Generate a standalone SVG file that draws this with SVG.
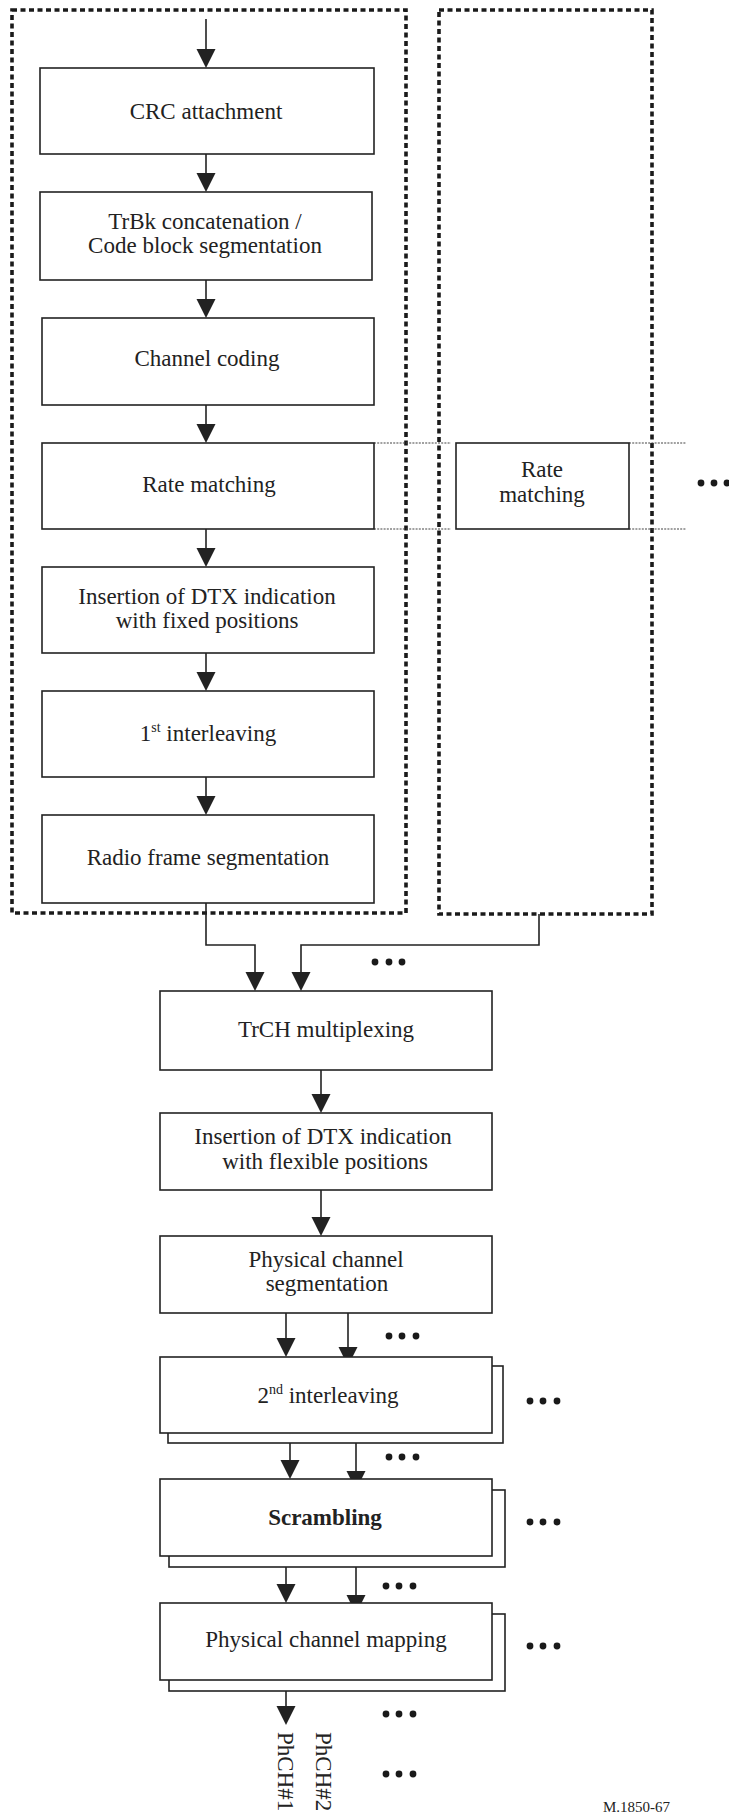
<svg xmlns="http://www.w3.org/2000/svg" width="729" height="1815" viewBox="0 0 729 1815">
<defs>
<style>
.box{fill:#fff;stroke:#222;stroke-width:1.6}
.t{font-family:"Liberation Serif","Times New Roman",serif;font-size:23px;fill:#222;text-anchor:middle}
.sup{font-size:14px}
.ln{fill:none;stroke:#222;stroke-width:1.6}
.grp{fill:none;stroke:#1a1a1a;stroke-width:3.6;stroke-dasharray:5 3.5}
.thin{fill:none;stroke:#444;stroke-width:1.2;stroke-dasharray:2 1.2}
.dot{fill:#1a1a1a}
</style>
</defs>
<rect width="729" height="1815" fill="#fff"/>

<g id="groups">
<rect class="grp" x="12" y="10" width="394" height="903"/>
<rect class="grp" x="439" y="10" width="213" height="904"/>
<path class="thin" d="M374,443 H451 M374,529 H451 M629,443 H686 M629,529 H686"/>
</g>

<g id="connectors">
<line class="ln" x1="206" y1="19" x2="206" y2="49"/><path d="M196.5,49 H215.5 L206,68 Z" fill="#222"/>
<line class="ln" x1="206" y1="154" x2="206" y2="173"/><path d="M196.5,173 H215.5 L206,192 Z" fill="#222"/>
<line class="ln" x1="206" y1="280" x2="206" y2="299"/><path d="M196.5,299 H215.5 L206,318 Z" fill="#222"/>
<line class="ln" x1="206" y1="405" x2="206" y2="424"/><path d="M196.5,424 H215.5 L206,443 Z" fill="#222"/>
<line class="ln" x1="206" y1="529" x2="206" y2="548"/><path d="M196.5,548 H215.5 L206,567 Z" fill="#222"/>
<line class="ln" x1="206" y1="653" x2="206" y2="672"/><path d="M196.5,672 H215.5 L206,691 Z" fill="#222"/>
<line class="ln" x1="206" y1="777" x2="206" y2="796"/><path d="M196.5,796 H215.5 L206,815 Z" fill="#222"/>
<path class="ln" d="M206,903 V945 H255 V972"/><path d="M245.5,972 H264.5 L255,991 Z" fill="#222"/>
<path class="ln" d="M539,914 V945 H301 V972"/><path d="M291.5,972 H310.5 L301,991 Z" fill="#222"/>
<line class="ln" x1="321" y1="1070" x2="321" y2="1094"/><path d="M311.5,1094 H330.5 L321,1113 Z" fill="#222"/>
<line class="ln" x1="321" y1="1190" x2="321" y2="1217"/><path d="M311.5,1217 H330.5 L321,1236 Z" fill="#222"/>
<line class="ln" x1="286" y1="1313" x2="286" y2="1338"/><path d="M276.5,1338 H295.5 L286,1357 Z" fill="#222"/>
<line class="ln" x1="348" y1="1313" x2="348" y2="1347"/><path d="M338.5,1347 H357.5 L348,1366 Z" fill="#222"/>
<line class="ln" x1="290" y1="1433" x2="290" y2="1460"/><path d="M280.5,1460 H299.5 L290,1479 Z" fill="#222"/>
<line class="ln" x1="356" y1="1443" x2="356" y2="1471"/><path d="M346.5,1471 H365.5 L356,1490 Z" fill="#222"/>
<line class="ln" x1="286" y1="1556" x2="286" y2="1584"/><path d="M276.5,1584 H295.5 L286,1603 Z" fill="#222"/>
<line class="ln" x1="356" y1="1567" x2="356" y2="1595"/><path d="M346.5,1595 H365.5 L356,1614 Z" fill="#222"/>
<line class="ln" x1="286" y1="1680" x2="286" y2="1706"/><path d="M276.5,1706 H295.5 L286,1725 Z" fill="#222"/>
</g>

<g id="crc"><rect class="box" x="40" y="68" width="334" height="86"/><text class="t" x="206" y="119">CRC attachment</text></g>
<g id="trbk"><rect class="box" x="40" y="192" width="332" height="88"/><text class="t" x="205" y="229">TrBk concatenation /</text><text class="t" x="205" y="253">Code block segmentation</text></g>
<g id="chcoding"><rect class="box" x="42" y="318" width="332" height="87"/><text class="t" x="207" y="366">Channel coding</text></g>
<g id="ratematch"><rect class="box" x="42" y="443" width="332" height="86"/><text class="t" x="209" y="492">Rate matching</text></g>
<g id="ratematch2"><rect class="box" x="456" y="443" width="173" height="86"/><text class="t" x="542" y="477">Rate</text><text class="t" x="542" y="502">matching</text></g>
<g id="dtxfixed"><rect class="box" x="42" y="567" width="332" height="86"/><text class="t" x="207" y="604">Insertion of DTX indication</text><text class="t" x="207" y="628">with fixed positions</text></g>
<g id="interleave1"><rect class="box" x="42" y="691" width="332" height="86"/><text class="t" x="208" y="741">1<tspan class="sup" dy="-9">st</tspan><tspan dy="9"> interleaving</tspan></text></g>
<g id="radioframe"><rect class="box" x="42" y="815" width="332" height="88"/><text class="t" x="208" y="865">Radio frame segmentation</text></g>

<g id="trchmux"><rect class="box" x="160" y="991" width="332" height="79"/><text class="t" x="326" y="1037">TrCH multiplexing</text></g>
<g id="dtxflex"><rect class="box" x="160" y="1113" width="332" height="77"/><text class="t" x="323" y="1144">Insertion of DTX indication</text><text class="t" x="325" y="1169">with flexible positions</text></g>
<g id="physeg"><rect class="box" x="160" y="1236" width="332" height="77"/><text class="t" x="326" y="1267">Physical channel</text><text class="t" x="327" y="1291">segmentation</text></g>
<g id="interleave2"><rect class="box" x="168" y="1366" width="335" height="77"/><rect class="box" x="160" y="1357" width="332" height="76"/><text class="t" x="328" y="1403">2<tspan class="sup" dy="-9">nd</tspan><tspan dy="9"> interleaving</tspan></text></g>
<g id="scrambling"><rect class="box" x="169" y="1490" width="336" height="77"/><rect class="box" x="160" y="1479" width="332" height="77"/><text class="t" x="325" y="1525" font-weight="bold">Scrambling</text></g>
<g id="phymap"><rect class="box" x="169" y="1614" width="336" height="77"/><rect class="box" x="160" y="1603" width="332" height="77"/><text class="t" x="326" y="1647">Physical channel mapping</text></g>

<g id="phch1"><text class="t" style="text-anchor:start" transform="translate(278,1732) rotate(90)">PhCH#1</text></g>
<g id="phch2"><text class="t" style="text-anchor:start" transform="translate(316,1732) rotate(90)">PhCH#2</text></g>

<g id="ellipses">
<circle class="dot" cx="701" cy="483" r="3.4"/><circle class="dot" cx="714" cy="483" r="3.4"/><circle class="dot" cx="727" cy="483" r="3.4"/>
<circle class="dot" cx="375" cy="962" r="3.4"/><circle class="dot" cx="389" cy="962" r="3.4"/><circle class="dot" cx="402" cy="962" r="3.4"/>
<circle class="dot" cx="389" cy="1336" r="3.4"/><circle class="dot" cx="402" cy="1336" r="3.4"/><circle class="dot" cx="416" cy="1336" r="3.4"/>
<circle class="dot" cx="530" cy="1401" r="3.4"/><circle class="dot" cx="543" cy="1401" r="3.4"/><circle class="dot" cx="557" cy="1401" r="3.4"/>
<circle class="dot" cx="389" cy="1457" r="3.4"/><circle class="dot" cx="402" cy="1457" r="3.4"/><circle class="dot" cx="416" cy="1457" r="3.4"/>
<circle class="dot" cx="530" cy="1522" r="3.4"/><circle class="dot" cx="543" cy="1522" r="3.4"/><circle class="dot" cx="557" cy="1522" r="3.4"/>
<circle class="dot" cx="386" cy="1586" r="3.4"/><circle class="dot" cx="399" cy="1586" r="3.4"/><circle class="dot" cx="413" cy="1586" r="3.4"/>
<circle class="dot" cx="530" cy="1646" r="3.4"/><circle class="dot" cx="543" cy="1646" r="3.4"/><circle class="dot" cx="557" cy="1646" r="3.4"/>
<circle class="dot" cx="386" cy="1714" r="3.4"/><circle class="dot" cx="399" cy="1714" r="3.4"/><circle class="dot" cx="413" cy="1714" r="3.4"/>
<circle class="dot" cx="386" cy="1774" r="3.4"/><circle class="dot" cx="399" cy="1774" r="3.4"/><circle class="dot" cx="413" cy="1774" r="3.4"/>
</g>

<text id="figref" x="603" y="1812" style="font-family:'Liberation Serif','Times New Roman',serif;font-size:15px;fill:#222">M.1850-67</text>
</svg>
